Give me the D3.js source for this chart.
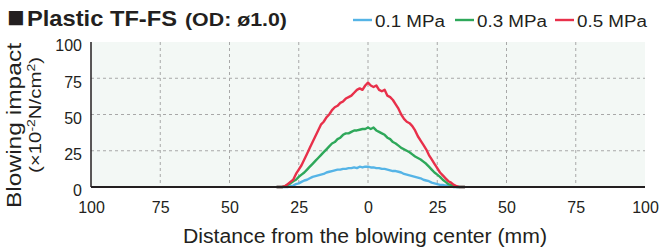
<!DOCTYPE html>
<html lang="en">
  <head>
    <meta charset="utf-8">
    <title>Plastic TF-FS</title>
    <script src="https://cdn.jsdelivr.net/npm/d3@7"></script>
    <style>
      body { margin: 0; background: #fff; }
      text { font-family: "Liberation Sans", Arial, sans-serif; fill: #231f20; }
    </style>
  </head>
  <body>
    <script>
      var w = 663;
      var h = 252;

      // distance from blowing center (mm), 1 mm steps
      var distance = d3.range(-33, 36);

      var p01 = [0,0,0,0,0,0.5,1,2,2.5,3.5,4.5,5,6,7,7.5,8,8.5,9,10,10.5,11,11.5,12,12,12.5,12.5,13,13,13.5,13,14,13.5,14,14,13.5,13.5,13,13,12.5,12.5,12,11.5,11,11,10.5,10,9,8.5,8,7.5,7,6.5,6,5,4.5,4,3,2.5,2,1.5,1.5,1,1,0.5,0,0,0,0,0];
      var p03 = [0,0,0,0.5,1.5,2.5,4,5,7,8.5,10,12,14,16,18,20,22,24,26,28,30,31,33,34,36,37,37,38,39,39,39.5,40,40,41,40,41,39,38,37,36,34,33,31,30,28.5,27,26,25,24,22.5,21,20,19,17.5,16,14,12,10,8.5,7,5,3.5,2,1.5,1,0,0,0,0];
      var p05 = [0,0,0,0.5,2,3.5,5,9,12,15,19,23,27,31,35,39,43,45,48,50,53,55,56,58,59,61,62,63,65,67,68,67,70,72,70,69,70,67,66,67,63,62,60,57,54,50,47,45,44,42,39,35,32,29,26,22,19,16,13,10,8,6,4,3,1.5,0.5,0,0,0];

      var seriesNames = ["0.1 MPa", "0.3 MPa", "0.5 MPa"];
      var seriesColors = ["#55b4e6", "#2ea85a", "#e8304a"];
      var seriesValues = [p01, p03, p05];

      var xTicks = [-100, -75, -50, -25, 0, 25, 50, 75, 100];
      var yTicks = [0, 25, 50, 75, 100];

      var xScale = d3.scaleLinear().domain([-100, 100]).range([91, 645]);
      var yScale = d3.scaleLinear().domain([0, 100]).range([187, 42]);

      var svg = d3.select("body")
                  .append("svg")
                  .attr("width", w)
                  .attr("height", h);

      svg.append("rect")
         .attr("x", xScale(-100))
         .attr("y", yScale(100))
         .attr("width", xScale(100) - xScale(-100))
         .attr("height", yScale(0) - yScale(100))
         .attr("fill", "#f3f8f5");

      // dashed grid
      svg.selectAll("line.vgrid")
         .data(xTicks.slice(1, -1))
         .enter()
         .append("line")
         .attr("class", "vgrid")
         .attr("x1", function (d) { return xScale(d); })
         .attr("x2", function (d) { return xScale(d); })
         .attr("y1", yScale(100))
         .attr("y2", yScale(0))
         .attr("stroke", "#a8a8a8")
         .attr("stroke-dasharray", "3,3");

      svg.selectAll("line.hgrid")
         .data(yTicks.slice(1, -1))
         .enter()
         .append("line")
         .attr("class", "hgrid")
         .attr("x1", xScale(-100))
         .attr("x2", xScale(100))
         .attr("y1", function (d) { return yScale(d); })
         .attr("y2", function (d) { return yScale(d); })
         .attr("stroke", "#a8a8a8")
         .attr("stroke-dasharray", "3,3");

      var line = d3.line()
                   .x(function (d, i) { return xScale(distance[i]); })
                   .y(function (d) { return yScale(d); });

      svg.selectAll("path.series")
         .data(seriesValues)
         .enter()
         .append("path")
         .attr("class", "series")
         .attr("d", line)
         .attr("fill", "none")
         .attr("stroke", function (d, i) { return seriesColors[i]; })
         .attr("stroke-width", 2.4)
         .attr("stroke-linejoin", "round");

      // axes
      var xAxis = d3.axisBottom(xScale)
                    .tickValues(xTicks)
                    .tickSize(0)
                    .tickPadding(15)
                    .tickFormat(function (d) { return Math.abs(d); });

      var yAxis = d3.axisLeft(yScale)
                    .tickValues(yTicks)
                    .tickSize(0)
                    .tickPadding(9);

      var gx = svg.append("g")
                  .attr("transform", "translate(0," + yScale(0) + ")")
                  .call(xAxis);
      gx.select(".domain").remove();
      gx.selectAll("text")
        .attr("font-size", "16px")
        .attr("font-family", "Liberation Sans, Arial, sans-serif")
        .attr("fill", "#231f20");

      var gy = svg.append("g")
                  .attr("transform", "translate(" + xScale(-100) + ",0)")
                  .call(yAxis);
      gy.select(".domain").remove();
      gy.selectAll("text")
        .attr("font-size", "16px")
        .attr("font-family", "Liberation Sans, Arial, sans-serif")
        .attr("fill", "#231f20")
        .attr("dy", "0.55em");

      svg.append("line")
         .attr("x1", xScale(-100))
         .attr("x2", xScale(-100))
         .attr("y1", yScale(100))
         .attr("y2", yScale(0))
         .attr("stroke", "#231f20")
         .attr("stroke-width", 1.5);

      svg.append("line")
         .attr("x1", xScale(-100))
         .attr("x2", xScale(100))
         .attr("y1", yScale(0))
         .attr("y2", yScale(0))
         .attr("stroke", "#231f20")
         .attr("stroke-width", 2);

      // title
      svg.append("text")
         .attr("x", 7)
         .attr("y", 27)
         .attr("font-size", "29px")
         .attr("font-family", "DejaVu Sans, sans-serif")
         .text("■");

      svg.append("text")
         .attr("x", 27)
         .attr("y", 26)
         .attr("font-size", "22px")
         .attr("font-weight", "bold")
         .attr("textLength", 150)
         .attr("lengthAdjust", "spacingAndGlyphs")
         .text("Plastic TF-FS");

      svg.append("text")
         .attr("x", 185)
         .attr("y", 26)
         .attr("font-size", "18px")
         .attr("font-weight", "bold")
         .attr("textLength", 102)
         .attr("lengthAdjust", "spacingAndGlyphs")
         .text("(OD: ø1.0)");

      // legend
      var legendX = [353, 455, 555];
      var legend = svg.selectAll("g.legend")
                      .data(seriesNames)
                      .enter()
                      .append("g")
                      .attr("class", "legend")
                      .attr("transform", function (d, i) { return "translate(" + legendX[i] + ",0)"; });

      legend.append("line")
            .attr("x1", 0)
            .attr("x2", 19)
            .attr("y1", 20)
            .attr("y2", 20)
            .attr("stroke", function (d, i) { return seriesColors[i]; })
            .attr("stroke-width", 2.4);

      legend.append("text")
            .attr("x", 22)
            .attr("y", 27)
            .attr("font-size", "16px")
            .attr("textLength", 70)
            .attr("lengthAdjust", "spacingAndGlyphs")
            .text(function (d) { return d; });

      // axis titles
      svg.append("text")
         .attr("transform", "translate(21,125.5) rotate(-90)")
         .attr("text-anchor", "middle")
         .attr("font-size", "20px")
         .attr("textLength", 165)
         .attr("lengthAdjust", "spacingAndGlyphs")
         .text("Blowing impact");

      var unit = svg.append("text")
                    .attr("transform", "translate(41,115) rotate(-90)")
                    .attr("text-anchor", "middle")
                    .attr("font-size", "16px")
                    .attr("textLength", 116)
                    .attr("lengthAdjust", "spacingAndGlyphs");
      unit.append("tspan").text("(×10");
      unit.append("tspan").attr("font-size", "11px").attr("dy", "-6").text("-2");
      unit.append("tspan").attr("dy", "6").text("N/cm");
      unit.append("tspan").attr("font-size", "11px").attr("dy", "-6").text("2");
      unit.append("tspan").attr("dy", "6").text(")");

      svg.append("text")
         .attr("x", 365)
         .attr("y", 243)
         .attr("text-anchor", "middle")
         .attr("font-size", "20px")
         .attr("textLength", 364)
         .attr("lengthAdjust", "spacingAndGlyphs")
         .text("Distance from the blowing center (mm)");
    </script>
  </body>
</html>
